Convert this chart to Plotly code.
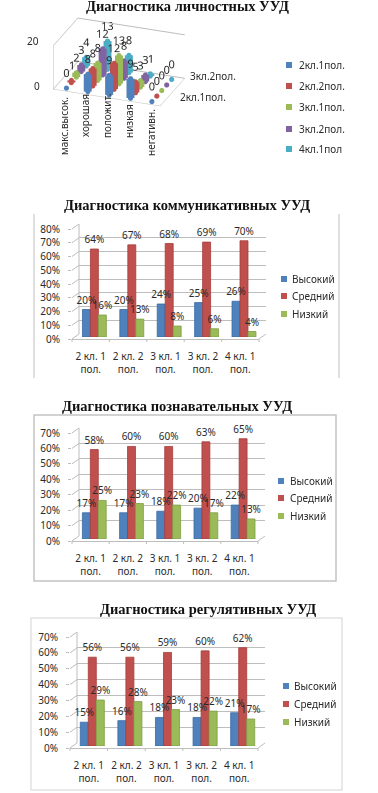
import plotly.graph_objects as go

W, H = 378, 793
FONT = "Noto Sans"
SERIF = "Liberation Serif"

# ---------- data ----------
classes_3d = ["2кл.1пол.", "2кл.2пол.", "3кл.1пол.", "3кл.2пол.", "4кл.1пол"]
levels_3d = ["макс.высок.", "хорошая", "положит.", "низкая", "негативн."]
v_2kl1 = [0, 8, 9, 9, 0]
v_2kl2 = [1, 8, 12, 5, 0]
v_3kl1 = [2, 8, 13, 3, 0]
v_3kl2 = [3, 12, 8, 3, 0]
v_4kl1 = [4, 13, 8, 1, 0]

categories = ["2 кл. 1<br>пол.", "2 кл. 2<br>пол.", "3 кл. 1<br>пол.", "3 кл. 2<br>пол.", "4 кл. 1<br>пол."]
levels = ["Высокий", "Средний", "Низкий"]

comm_high = [20, 20, 24, 25, 26]
comm_mid = [64, 67, 68, 69, 70]
comm_low = [16, 13, 8, 6, 4]

cogn_high = [17, 17, 18, 20, 22]
cogn_mid = [58, 60, 60, 63, 65]
cogn_low = [25, 23, 22, 17, 13]

reg_high = [15, 16, 18, 18, 21]
reg_mid = [56, 56, 59, 60, 62]
reg_low = [29, 28, 23, 22, 17]

COL3 = ["#4F81BD", "#C0504D", "#9BBB59"]
EDGE3 = ["#3A6AA3", "#A33E3B", "#7F9E45"]
COL5 = ["#4F81BD", "#C0504D", "#9BBB59", "#8064A2", "#4BACC6"]
GRID = "#BDBDBD"
TXT = "#2A2A2A"
FS = 10

fx = lambda px: px / W
fy = lambda py: 1 - py / H

fig = go.Figure()
shapes, annots = [], []


def legend_block(names, colors, sx, tx, ys):
    for name, col, yy in zip(names, colors, ys):
        shapes.append(dict(type="rect", xref="paper", yref="paper", x0=fx(sx - 3), x1=fx(sx + 3), y0=fy(yy + 3), y1=fy(yy - 3),
                           fillcolor=col, line=dict(width=0)))
        annots.append(dict(x=fx(tx), y=fy(yy), text=name, showarrow=False, xanchor="left", yanchor="middle",
                           xref="paper", yref="paper", font=dict(family=FONT, size=FS, color=TXT)))


# ---------- 3D panel ----------
series_3d = [v_2kl1, v_2kl2, v_3kl1, v_3kl2, v_4kl1]
for j, (name, vals) in enumerate(zip(classes_3d, series_3d)):
    xs, ys, zs, txt = [], [], [], []
    for i, v in enumerate(vals):
        xs += [i, i, None]
        ys += [j, j, None]
        zs += [0, v, None]
        txt += ["", str(v), ""]
    fig.add_trace(go.Scatter3d(
        x=xs, y=ys, z=zs, mode="lines+markers+text", text=txt, textposition="top center",
        textfont=dict(family=FONT, size=11, color=TXT),
        line=dict(color=COL5[j], width=16), marker=dict(color=COL5[j], size=3),
        name=name, showlegend=False, hoverinfo="skip"))
fig.update_layout(scene=dict(
    domain=dict(x=[fx(19), fx(219)], y=[fy(117), fy(7)]),
    xaxis=dict(range=[-0.5, 4.5], showticklabels=False, title="", showgrid=False, zeroline=False,
               showline=True, linecolor=GRID, showbackground=False, showspikes=False),
    yaxis=dict(range=[-0.5, 4.5], showticklabels=False, title="", showgrid=False, zeroline=False,
               showline=True, linecolor=GRID, showbackground=False, showspikes=False),
    zaxis=dict(range=[0, 20], dtick=20, showticklabels=False, title="", gridcolor=GRID, zeroline=False,
               showline=True, linecolor=GRID, showbackground=False, showspikes=False),
    aspectmode="manual", aspectratio=dict(x=1.62 * 1.28, y=1.0 * 1.28, z=0.68 * 1.28),
    camera=dict(eye=dict(x=0.318 * 1.5, y=-0.849 * 1.5, z=0.42 * 1.5), center=dict(x=0, y=0, z=0),
                projection=dict(type="orthographic")),
    bgcolor="rgba(0,0,0,0)"))

for label, cx, cy in zip(levels_3d, [64, 85, 107, 129, 151], [126, 116, 116, 121, 133]):
    annots.append(dict(x=fx(cx), y=fy(cy), text=label, textangle=-90, showarrow=False, xanchor="center", yanchor="middle",
                       xref="paper", yref="paper", font=dict(family=FONT, size=FS, color=TXT)))
for label, px, py in [("20", 33, 41), ("0", 37, 86), ("3кл.2пол.", 213, 76), ("2кл.1пол.", 203, 97)]:
    annots.append(dict(x=fx(px), y=fy(py), text=label, showarrow=False, xanchor="center", yanchor="middle",
                       xref="paper", yref="paper", font=dict(family=FONT, size=FS, color=TXT)))
legend_block(classes_3d, COL5, 289, 297, [65, 86, 107, 129, 149])

# ---------- bar panels ----------
panels = [
    dict(vals=[comm_high, comm_mid, comm_low], ymax=80, x0=72, x1=259, y0=339, ytop=229, bx=3.7, by=2, sx=284, tx=290, ly=[279, 296, 314]),
    dict(vals=[cogn_high, cogn_mid, cogn_low], ymax=70, x0=72, x1=258, y0=541, ytop=433, bx=3.7, by=2, sx=281, tx=288, ly=[481, 498, 516]),
    dict(vals=[reg_high, reg_mid, reg_low], ymax=70, x0=70, x1=258, y0=748, ytop=637, bx=3.5, by=2, sx=286, tx=292, ly=[686, 704, 722]),
]
DX, DY = 7, 5
n = 0
axes = {}
for p_i, p in enumerate(panels):
    x0, x1, y0, yt = p["x0"], p["x1"], p["y0"], p["ytop"]
    layers = [("grid", DX, DY), ("bars", p["bx"], p["by"]), ("front", 0, 0), ("text", p["bx"], p["by"])]
    for kind, dx, dy in layers:
        n += 1
        xa = "xaxis" if n == 1 else f"xaxis{n}"
        ya = "yaxis" if n == 1 else f"yaxis{n}"
        xr = "x" if n == 1 else f"x{n}"
        yr = "y" if n == 1 else f"y{n}"
        axes[xa] = dict(domain=[fx(x0 + dx), fx(x1 + dx)], anchor=yr, type="category",
                        categoryorder="array", categoryarray=categories,
                        range=[-0.5, 4.5], showgrid=False, zeroline=False,
                        showline=(kind == "front"), linecolor=GRID,
                        showticklabels=(kind == "front"), ticks="", ticklabelstandoff=8,
                        tickfont=dict(family=FONT, size=FS, color=TXT), tickangle=0, automargin=False)
        axes[ya] = dict(domain=[fy(y0 - dy), fy(yt - dy)], anchor=xr, range=[0, p["ymax"]], dtick=10,
                        ticksuffix="%", showgrid=(kind == "grid"), gridcolor=GRID, gridwidth=1, zeroline=False,
                        showline=False, showticklabels=(kind == "front"),
                        ticks="outside" if kind == "front" else "", ticklen=3, tickcolor=GRID,
                        ticklabelstandoff=6,
                        tickfont=dict(family=FONT, size=FS, color=TXT), automargin=False)
        if kind == "bars":
            for k, (name, vals) in enumerate(zip(levels, p["vals"])):
                fig.add_trace(go.Bar(
                    x=categories, y=vals, name=name, xaxis=xr, yaxis=yr, showlegend=False,
                    offsetgroup=f"{p_i}-{k}", alignmentgroup=f"p{p_i}",
                    marker=dict(color=COL3[k], line=dict(color=EDGE3[k], width=0.8)), hoverinfo="skip"))
        elif kind == "text":
            for k, (name, vals) in enumerate(zip(levels, p["vals"])):
                fig.add_trace(go.Bar(
                    x=categories, y=vals, name=name, xaxis=xr, yaxis=yr, showlegend=False,
                    offsetgroup=f"{p_i}-{k}", alignmentgroup=f"t{p_i}",
                    marker=dict(color="rgba(0,0,0,0)", line=dict(width=0)),
                    text=[f"{v}%" for v in vals], textposition="outside", cliponaxis=False,
                    constraintext="none", textangle=0,
                    textfont=dict(family=FONT, size=FS, color=TXT), hoverinfo="skip"))
        else:
            fig.add_trace(go.Scatter(x=categories, y=[None] * 5, xaxis=xr, yaxis=yr, showlegend=False, hoverinfo="skip"))
    step = (y0 - yt) / (p["ymax"] / 10)
    for t in range(int(p["ymax"] / 10) + 1):
        yy = y0 - t * step
        shapes.append(dict(type="line", xref="paper", yref="paper", x0=fx(x0), y0=fy(yy), x1=fx(x0 + DX), y1=fy(yy - DY),
                           line=dict(color=GRID, width=1), layer="below"))
    shapes.append(dict(type="line", xref="paper", yref="paper", x0=fx(x0 + DX), y0=fy(y0 - DY), x1=fx(x0 + DX), y1=fy(yt - DY),
                       line=dict(color=GRID, width=1), layer="below"))
    shapes.append(dict(type="line", xref="paper", yref="paper", x0=fx(x1), y0=fy(y0), x1=fx(x1 + DX), y1=fy(y0 - DY),
                       line=dict(color=GRID, width=1), layer="below"))
    for c in range(6):
        xx = x0 + c * (x1 - x0) / 5
        shapes.append(dict(type="line", xref="paper", yref="paper", x0=fx(xx), y0=fy(y0), x1=fx(xx), y1=fy(y0 + 3),
                           line=dict(color=GRID, width=1), layer="below"))
    legend_block(levels, COL3, p["sx"], p["tx"], p["ly"])

# frames
frame = "#D4D4D4"
shapes += [
    dict(type="line", xref="paper", yref="paper", x0=fx(34), x1=fx(34), y0=fy(214), y1=fy(378), line=dict(color=frame, width=1.5), layer="below"),
    dict(type="line", xref="paper", yref="paper", x0=fx(339), x1=fx(339), y0=fy(214), y1=fy(378), line=dict(color=frame, width=1.5), layer="below"),
    dict(type="rect", xref="paper", yref="paper", x0=fx(34), x1=fx(336), y0=fy(581), y1=fy(415), line=dict(color="#C4C4C4", width=1.5), layer="below"),
    dict(type="rect", xref="paper", yref="paper", x0=fx(31), x1=fx(342), y0=fy(790), y1=fy(618), line=dict(color="#E2E2E2", width=1.5), layer="below"),
]

# titles
for text, cx, cy in [("Диагностика личностных УУД", 187, 6),
                     ("Диагностика коммуникативных УУД", 187, 205),
                     ("Диагностика познавательных УУД", 177, 406),
                     ("Диагностика регулятивных УУД", 208, 609)]:
    annots.append(dict(x=fx(cx), y=fy(cy), text=f"<b>{text}</b>", showarrow=False, xanchor="center", yanchor="middle",
                       xref="paper", yref="paper", font=dict(family=SERIF, size=14.5, color="#111111")))

fig.update_layout(width=W, height=H, margin=dict(l=0, r=0, t=0, b=0), paper_bgcolor="white", plot_bgcolor="rgba(0,0,0,0)",
                  barmode="group", bargap=0.36, bargroupgap=0, shapes=shapes, annotations=annots, showlegend=False,
                  **axes)
fig.write_html("out.html", config=dict(displayModeBar=False),
               post_script="document.body.style.margin='0';document.documentElement.style.overflow='hidden';")
